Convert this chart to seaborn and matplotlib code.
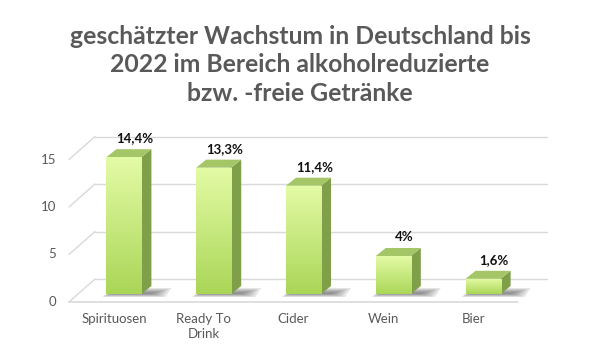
import numpy as np
import pandas as pd
import matplotlib
matplotlib.use("Agg")
import matplotlib.pyplot as plt
import seaborn as sns
from matplotlib.patches import Polygon
from matplotlib.lines import Line2D
from matplotlib.transforms import IdentityTransform, ScaledTranslation
from matplotlib.colors import LinearSegmentedColormap

# ---- data ----
categories = ["Spirituosen", "Ready To\nDrink", "Cider", "Wein", "Bier"]
values = [14.4, 13.3, 11.4, 4.0, 1.6]
value_labels = ["14,4%", "13,3%", "11,4%", "4%", "1,6%"]
yticks = [0, 5, 10, 15]
title = "geschätzter Wachstum in Deutschland bis\n2022 im Bereich alkoholreduzierte\nbzw. -freie Getränke"

sns.set_theme(style="white")
plt.rcParams['font.family'] = ['Lato', 'DejaVu Sans']

W, H = 600, 359
fig = plt.figure(figsize=(W / 100, H / 100), dpi=100)
fig.patch.set_facecolor("white")
ax = fig.add_axes([79 / W, (H - 294) / H, (528 - 79) / W, (294 - 142) / H])

df = pd.DataFrame({"cat": categories, "val": values})
sns.barplot(data=df, x="cat", y="val", width=0.39, color="#c8ec80",
            saturation=1, ax=ax, zorder=4)
bars = list(ax.patches)
for b in bars:
    b.set_edgecolor("none")

# gradient on front faces
grad_cmap = LinearSegmentedColormap.from_list("g", ["#aad657", "#e4fba6"])
grad = np.linspace(0, 1, 256).reshape(-1, 1)
for b in bars:
    x0, y0 = b.get_x(), b.get_y()
    w, h = b.get_width(), b.get_height()
    im = ax.imshow(grad, extent=[x0, x0 + w, y0, y0 + h], origin="lower",
                   cmap=grad_cmap, aspect="auto", zorder=4.5)
    im.set_clip_path(b)

ax.set_xlim(-0.5, 4.5)
ax.set_ylim(0, 16)
ax.axis("off")

ID = IdentityTransform()


def D(x, y, dx=0.0, dy=0.0):
    p = ax.transData.transform((x, y))
    return (p[0] + dx, p[1] + dy)


FRONT = (-10, -8)
BACK = (16, 15)
grid_col = "#d9d9d9"

# back wall gridlines and left wall diagonals
for t in yticks:
    a = D(-0.5, t, *BACK)
    b2 = D(4.5, t, BACK[0] + 3, BACK[1])
    ax.add_line(Line2D([a[0], b2[0]], [a[1], b2[1]], color=grid_col, lw=1.0,
                       transform=ID, clip_on=False, zorder=1))
    f = D(-0.5, t, *FRONT)
    ax.add_line(Line2D([f[0], a[0]], [f[1], a[1]], color=grid_col, lw=1.0,
                       transform=ID, clip_on=False, zorder=1))
    ax.text(f[0] - 13, f[1], str(t), transform=ID, ha="right", va="center",
            fontsize=9.5, color="#595959")

# floor front edge
fl = D(-0.5, 0, *FRONT)
fr = D(4.5, 0, *FRONT)
ax.add_line(Line2D([fl[0], fr[0]], [fl[1], fr[1]], color=grid_col, lw=1.2,
                   transform=ID, clip_on=False, zorder=1))

# bar 3D faces and shadows
dx3, dy3 = 10, 8
for b in bars:
    x0 = b.get_x()
    x1 = x0 + b.get_width()
    h = b.get_height()
    # shadow
    for k in range(6):
        s = k * 1.6
        pts = [D(x0, 0, -4 + s, -3 + s * 0.4), D(x1, 0, 24 - s * 2, -3 + s * 0.4),
               D(x1, 0, 30 - s * 2, 6 - s * 0.6), D(x0, 0, 6 + s, 6 - s * 0.6)]
        ax.add_patch(Polygon(pts, closed=True, facecolor="#3a3a3a", alpha=0.13,
                             edgecolor="none", transform=ID, clip_on=False, zorder=2))
    # side face
    side = [D(x1, 0), D(x1, h), D(x1, h, dx3, dy3), D(x1, 0, dx3, dy3)]
    ax.add_patch(Polygon(side, closed=True, facecolor="#7f9f48", edgecolor="none",
                         transform=ID, clip_on=False, zorder=4))
    # top face
    top = [D(x0, h), D(x1, h), D(x1, h, dx3, dy3), D(x0, h, dx3, dy3)]
    ax.add_patch(Polygon(top, closed=True, facecolor="#a4c667", edgecolor="none",
                         transform=ID, clip_on=False, zorder=4))

# value labels
lab_off = ax.transData + ScaledTranslation(11 / 100, 19 / 100, fig.dpi_scale_trans)
for b, lab in zip(bars, value_labels):
    cx = b.get_x() + b.get_width() / 2
    ax.text(cx, b.get_height(), lab, transform=lab_off, ha="center", va="center",
            fontsize=9.5, fontweight="bold", color="#111111")

# category labels
for i, c in enumerate(categories):
    p = D(i, 0, FRONT[0], 0)
    ax.text(p[0], H - 313, c, transform=ID, ha="center", va="top",
            fontsize=9.5, color="#595959", linespacing=1.25)

# title
fig.text(0.5, 1 - 65 / H, title, ha="center", va="center", fontsize=17.8,
         fontweight="bold", color="#595959", linespacing=1.27)

fig.savefig("out.png", dpi=100)
